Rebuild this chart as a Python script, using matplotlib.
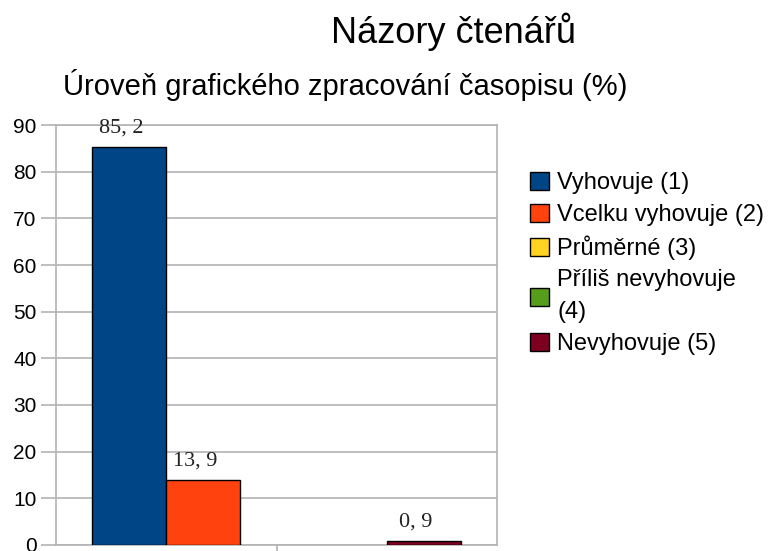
import matplotlib.pyplot as plt
from matplotlib.patches import Patch

series = ['Vyhovuje (1)', 'Vcelku vyhovuje (2)', 'Průměrné (3)',
          'Příliš nevyhovuje\n(4)', 'Nevyhovuje (5)']
values = [85.2, 13.9, 0.0, 0.0, 0.9]
group = [0, 0, 1, 1, 1]
slot = [0, 1, 0, 0, 1]
colors = ['#004586', '#ff420e', '#ffd320', '#579d1c', '#7e0021']
yticks = [0, 10, 20, 30, 40, 50, 60, 70, 80, 90]

plt.rcParams['font.family'] = ['Liberation Sans', 'DejaVu Sans']

fig = plt.figure(figsize=(7.68, 5.51), dpi=100)
ax = fig.add_axes([56 / 768, 6 / 551, 441 / 768, 420 / 551])

w = 0.335
grid_c = '#b3b3b3'
for g, s, v, c in zip(group, slot, values, colors):
    if v <= 0:
        continue
    x = g + (s - 0.5) * w
    ax.bar(x, v, width=w, color=c, edgecolor='black', linewidth=1, zorder=3)
    ax.annotate(f'{v:.1f}'.replace('.', ', '), (x, v), xytext=(-6, 7),
                textcoords='offset points', ha='center', va='bottom',
                fontsize=16, family='Liberation Serif', color='#222222')

ax.set_xlim(-0.5, 1.5)
ax.set_ylim(0, 90)
ax.set_yticks(yticks)
ax.set_xticks([0.5])
ax.set_xticklabels([])
ax.yaxis.grid(True, color=grid_c, linewidth=1.2, zorder=0)
ax.tick_params(axis='both', direction='out', length=11, width=1.2,
               color=grid_c, labelsize=15, pad=3)
for sp in ax.spines.values():
    sp.set_color(grid_c)
    sp.set_linewidth(1.2)

fig.text(0.590, 0.943, 'Názory čtenářů', ha='center', va='center', fontsize=26)
fig.text(0.449, 0.845, 'Úroveň grafického zpracování časopisu (%)',
         ha='center', va='center', fontsize=21)

handles = [Patch(facecolor=c, edgecolor='black', linewidth=1) for c in colors]
leg = fig.legend(handles, series, loc='upper left', bbox_to_anchor=(0.690, 0.688),
                 frameon=False, fontsize=17, handlelength=0.8, handleheight=0.8,
                 handletextpad=0.35, labelspacing=0.4, borderpad=0,
                 borderaxespad=0)
for t in leg.get_texts():
    t.set_linespacing(1.6)

fig.savefig('out.png', dpi=100)
